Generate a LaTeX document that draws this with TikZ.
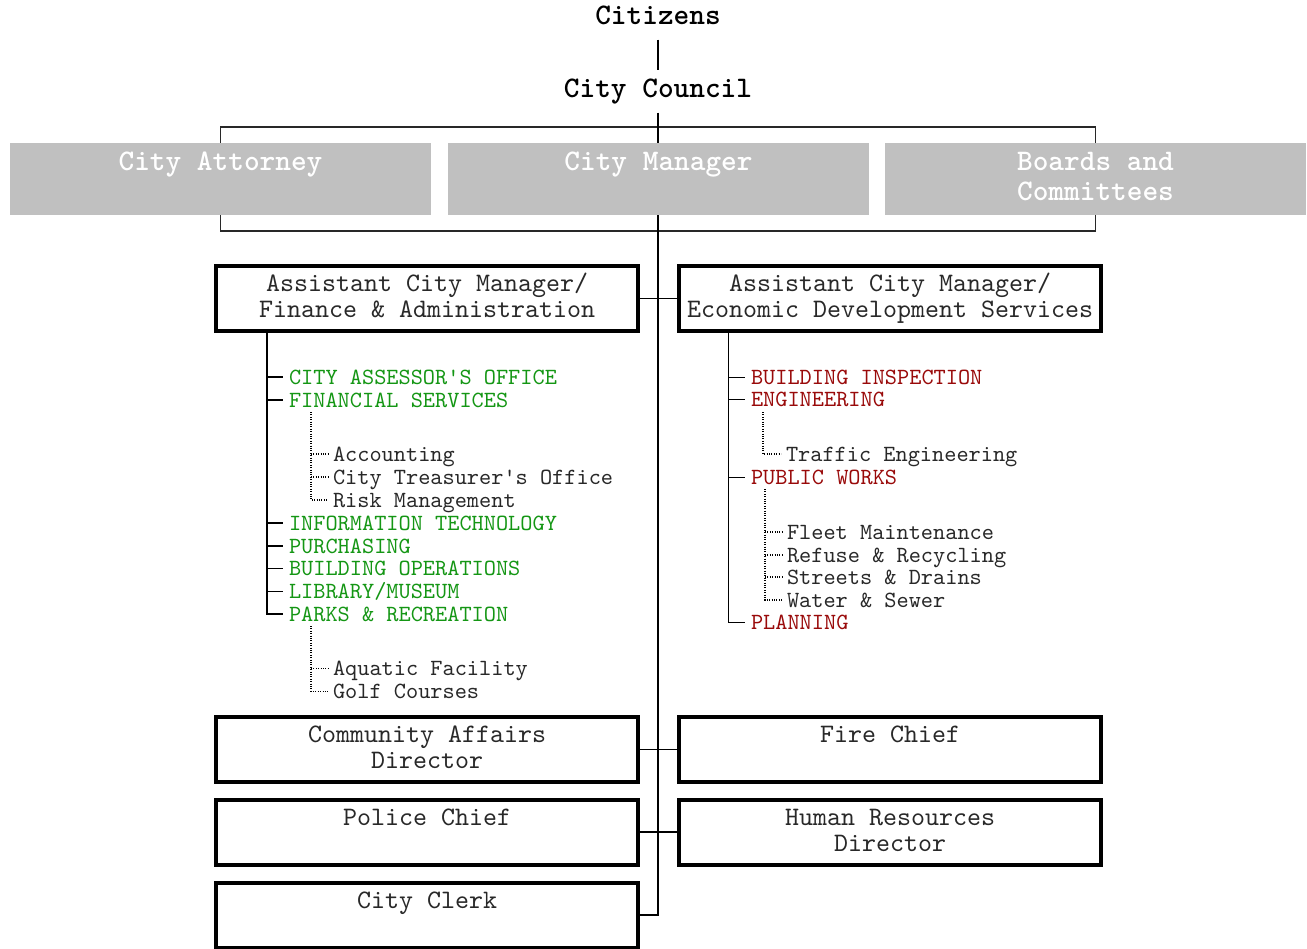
\documentclass[tikz,border=0pt]{standalone}
\usepackage{fontspec}
\newfontfamily\mono{lmmono10-regular.otf}[BoldFont=lmmonolt10-bold.otf]
\usetikzlibrary{positioning,calc,backgrounds}
\definecolor{fagreen}{RGB}{20,150,20}
\definecolor{edsred}{RGB}{153,10,10}
\definecolor{boxgray}{RGB}{192,192,192}
\definecolor{ink}{RGB}{40,40,40}

\tikzset{
  head/.style={font=\mono\bfseries\fontsize{22.4}{25}\selectfont, inner sep=0pt, outer sep=10.9pt, text height=10pt, text depth=0pt},
  topbox/.style={fill=boxgray, text=white, font=\mono\bfseries\fontsize{22.4}{22.5}\selectfont, minimum width=315.75pt, minimum height=54pt, inner sep=0pt, align=center, text height=36.5pt, text depth=4.3pt},
  office/.style={draw=black, line width=3pt, text=ink, font=\mono\fontsize{20}{19.5}\selectfont, minimum width=316.5pt, minimum height=48.75pt, inner sep=0pt, align=center, text height=32.5pt, text depth=3.3pt},
  dept/.style={font=\mono\fontsize{17.4}{18}\selectfont, inner sep=0pt, outer sep=4.5pt, anchor=west, text height=10.6pt, text depth=0pt},
  fadept/.style={dept, text=fagreen},
  edsdept/.style={dept, text=edsred},
  unit/.style={dept, text=ink, outer sep=3.75pt},
  trunkline/.style={line width=1pt, draw=black},
  subline/.style={line width=0.8pt, densely dotted},
  bracket/.style={line width=1pt, draw=ink}
}

\begin{document}
\begin{tikzpicture}[x=0.75pt,y=-0.75pt]
	\useasboundingbox (0,0) rectangle (1307,949);
	% top of the chart
	\node[head, anchor=base] (cit) at (658,25) {Citizens};
	\node[head, anchor=base] (council) at (658,98) {City Council};
	\node[topbox] (att) at (220.5,179) {City Attorney\\~};
	\node[topbox] (cm) at (658.5,179) {City Manager\\~};
	\node[topbox] (brd) at (1095.5,179) {Boards and\\Committees};
	\coordinate (brtop) at (658,127);
	\coordinate (brbot) at (658,231);

	% offices under the city manager
	\node[office] (fa) at (427,298.5) {Assistant City Manager/\\Finance \& Administration};
	\node[office] (eds) at (890,298.5) {Assistant City Manager/\\Economic Development Services};
	\node[office] (cad) at (427,749.5) {Community Affairs\\Director};
	\node[office] (fire) at (890,749.5) {Fire Chief\\~};
	\node[office] (police) at (427,832) {Police Chief\\~};
	\node[office] (hr) at (890,832) {Human Resources\\Director};
	\node[office] (clerk) at (427,915) {City Clerk\\~};

	% finance & administration
	\node[fadept] (assr) at (283,377) {CITY ASSESSOR'S OFFICE};
	\node[fadept] (fin) at (283,400) {FINANCIAL SERVICES};
	\node[unit] (acct) at (328,454) {Accounting};
	\node[unit] (treas) at (328,477) {City Treasurer's Office};
	\node[unit] (risk) at (328,500) {Risk Management};
	\node[fadept] (it) at (283,523) {INFORMATION TECHNOLOGY};
	\node[fadept] (purch) at (283,546) {PURCHASING};
	\node[fadept] (bldgops) at (283,568.5) {BUILDING OPERATIONS};
	\node[fadept] (lib) at (283,591.5) {LIBRARY/MUSEUM};
	\node[fadept] (parks) at (283,614) {PARKS \& RECREATION};
	\node[unit] (aqua) at (328,668.5) {Aquatic Facility};
	\node[unit] (golf) at (328,691.3) {Golf Courses};

	% economic development services
	\node[edsdept] (insp) at (745,377.5) {BUILDING INSPECTION};
	\node[edsdept] (eng) at (745,399.5) {ENGINEERING};
	\node[unit] (traffic) at (781,454) {Traffic Engineering};
	\node[edsdept] (pw) at (745,477.5) {PUBLIC WORKS};
	\node[unit] (fleet) at (782,532) {Fleet Maintenance};
	\node[unit] (refuse) at (782,555) {Refuse \& Recycling};
	\node[unit] (streets) at (782,577) {Streets \& Drains};
	\node[unit] (water) at (782,600) {Water \& Sewer};
	\node[edsdept] (plan) at (745,622.5) {PLANNING};

	\coordinate (ltr) at ($(fa.south)+(-160,0)$);
	\coordinate (rtr) at ($(eds.south)+(-161.5,0)$);
	\coordinate (fsub) at (311,412);
	\coordinate (psub) at (311,626);
	\coordinate (esub) at (763,412);
	\coordinate (wsub) at (765,489);

	\begin{scope}[on background layer]
		\draw[trunkline] (cit.south) -- (council.north);
		\draw[bracket] (att.center |- brtop) rectangle (brd.center |- brbot);
		\draw[trunkline] (council.south) -- (council.south |- clerk.east) -- (clerk.east);
		\draw[trunkline] (fa.east) -- (eds.west);
		\draw[trunkline] (cad.east) -- (fire.west);
		\draw[trunkline] (police.east) -- (hr.west);
		% department trees
		\draw[trunkline] (ltr) |- (parks.west);
		\foreach \n in {assr,fin,it,purch,bldgops,lib}
			\draw[trunkline] (ltr |- \n.west) -- (\n.west);
		\draw[subline] (fsub) |- (risk.west);
		\foreach \n in {acct,treas}
			\draw[subline] (fsub |- \n.west) -- (\n.west);
		\draw[subline] (psub) |- (golf.west);
		\draw[subline] (psub |- aqua.west) -- (aqua.west);
		\draw[trunkline] (rtr) |- (plan.west);
		\foreach \n in {insp,eng,pw}
			\draw[trunkline] (rtr |- \n.west) -- (\n.west);
		\draw[subline] (esub) |- (traffic.west);
		\draw[subline] (wsub) |- (water.west);
		\foreach \n in {fleet,refuse,streets}
			\draw[subline] (wsub |- \n.west) -- (\n.west);
	\end{scope}
\end{tikzpicture}
\end{document}
